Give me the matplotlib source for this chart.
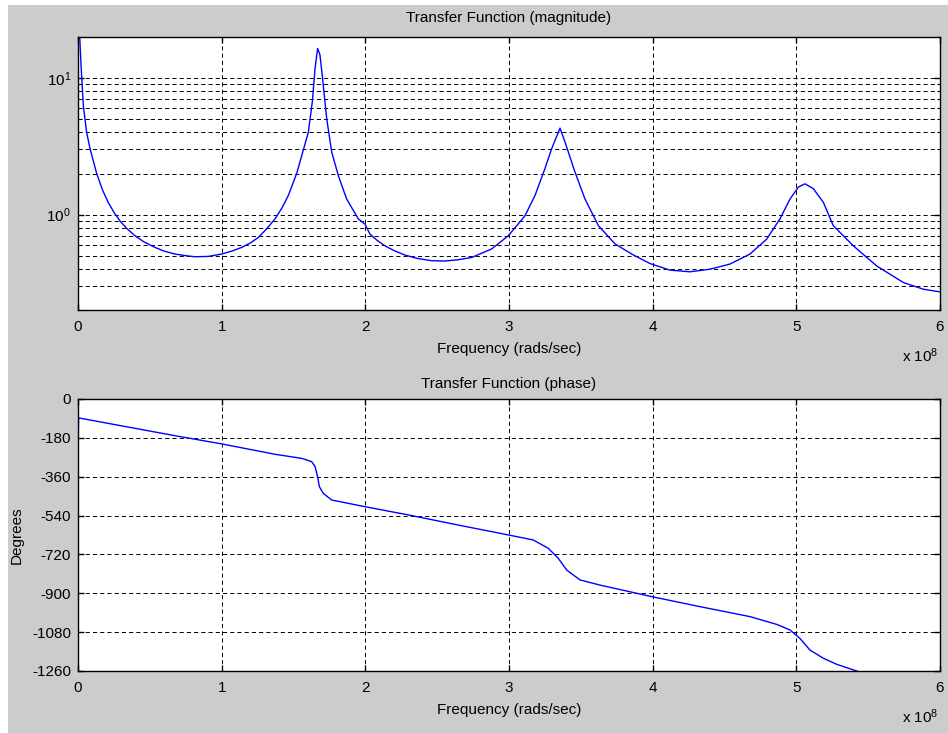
import matplotlib
matplotlib.use("Agg")
import matplotlib.pyplot as plt
from matplotlib.patches import Rectangle
from matplotlib.ticker import FixedLocator, NullFormatter, LogFormatterMathtext

# ---- data (frequency in units of 1e8 rad/s) ----
mag_freq = [0.003, 0.012, 0.021, 0.037, 0.06, 0.084, 0.13, 0.17, 0.21, 0.25, 0.292, 0.34,
            0.397, 0.46, 0.536, 0.60, 0.675, 0.75, 0.814, 0.907, 1.0, 1.07, 1.14, 1.20,
            1.255, 1.31, 1.371, 1.42, 1.464, 1.522, 1.568, 1.603, 1.631, 1.65, 1.668,
            1.684, 1.70, 1.731, 1.766, 1.812, 1.87, 1.951, 1.998, 2.032, 2.08, 2.137,
            2.20, 2.276, 2.36, 2.462, 2.554, 2.64, 2.74, 2.879, 2.995, 3.05, 3.111, 3.181,
            3.25, 3.297, 3.343, 3.355, 3.39, 3.459, 3.529, 3.622, 3.738, 3.854, 3.981,
            4.12, 4.26, 4.399, 4.538, 4.677, 4.793, 4.886, 4.956, 5.014, 5.06, 5.118,
            5.188, 5.257, 5.397, 5.56, 5.745, 5.884, 5.995]
mag_vals = [40.0, 20.0, 12.5, 6.3, 4.0, 3.04, 2.0, 1.52, 1.23, 1.04, 0.90, 0.79,
            0.70, 0.63, 0.575, 0.54, 0.514, 0.50, 0.491, 0.494, 0.514, 0.54, 0.575, 0.62,
            0.68, 0.78, 0.93, 1.12, 1.38, 2.0, 2.96, 4.0, 6.7, 11.8, 16.5,
            14.8, 10.5, 5.06, 2.87, 1.93, 1.30, 0.93, 0.85, 0.72, 0.65, 0.59,
            0.545, 0.505, 0.478, 0.459, 0.457, 0.466, 0.485, 0.56, 0.70, 0.82, 0.98, 1.38,
            2.17, 3.04, 4.0, 4.3, 3.4, 2.05, 1.30, 0.83, 0.61, 0.514, 0.438,
            0.392, 0.381, 0.398, 0.434, 0.514, 0.66, 0.93, 1.30, 1.59, 1.68, 1.55,
            1.23, 0.83, 0.59, 0.42, 0.318, 0.284, 0.272]

ph_freq = [0.0, 0.002, 0.004, 0.008, 0.211, 0.675, 1.0, 1.371, 1.557, 1.626, 1.65,
           1.668, 1.68, 1.707, 1.766, 1.998, 2.30, 2.647, 2.937, 3.169, 3.274, 3.343,
           3.401, 3.494, 3.633, 3.997, 4.33, 4.677, 4.863, 4.956, 5.025, 5.095, 5.188,
           5.281, 5.42, 5.6]
ph_vals = [0, -165, -90, -88, -113, -170, -208, -256, -275, -290, -313,
           -360, -406, -437, -468, -499, -537, -584, -622, -653, -692, -738,
           -792, -838, -862, -916, -962, -1008, -1044, -1070, -1109, -1163, -1201,
           -1229, -1260, -1300]

x_ticks = [0, 1, 2, 3, 4, 5, 6]
mag_major = [1, 10]
mag_minor = [0.2, 0.3, 0.4, 0.5, 0.6, 0.7, 0.8, 0.9, 2, 3, 4, 5, 6, 7, 8, 9, 20]
ph_ticks = [0, -180, -360, -540, -720, -900, -1080, -1260]

plt.rcParams['font.family'] = ['Liberation Sans', 'DejaVu Sans']
plt.rcParams['mathtext.default'] = 'regular'
plt.rcParams['lines.scale_dashes'] = False
FS = 11

W, H = 948, 733
fig = plt.figure(figsize=(W / 100, H / 100), dpi=100, facecolor='white')
fig.patches.append(Rectangle((8 / W, 0), 1 - 8 / W, 1 - 5 / H, transform=fig.transFigure,
                             facecolor='#cccccc', edgecolor='none', zorder=-10))

def fpos(x0, y0, x1, y1):
    return [x0 / W, 1 - y1 / H, (x1 - x0) / W, (y1 - y0) / H]

grid_kw = dict(color='black', linestyle=(0, (3, 2.2)), linewidth=0.7)

def style(ax):
    ax.set_facecolor('white')
    for s in ax.spines.values():
        s.set_linewidth(1.0)
        s.set_color('black')
    ax.tick_params(which='both', direction='in', top=True, right=True,
                   labelsize=FS, colors='black')
    ax.tick_params(axis='y', pad=5)
    ax.tick_params(axis='x', pad=7)
    ax.tick_params(which='major', length=4, width=1.0)
    ax.tick_params(which='minor', length=2.5, width=0.8)
    ax.set_xlim(0, 6)
    ax.xaxis.set_major_locator(FixedLocator(x_ticks))
    ax.set_xticklabels([str(t) for t in x_ticks])
    ax.xaxis.set_minor_locator(FixedLocator([]))
    ax.set_axisbelow(True)

# ---- magnitude ----
ax1 = fig.add_axes(fpos(78, 37, 940, 310))
ax1.plot(mag_freq, mag_vals, color=(0, 0, 1), linewidth=1.0)
ax1.set_yscale('log')
ax1.set_ylim(0.2, 20)
style(ax1)
ax1.yaxis.set_major_locator(FixedLocator(mag_major))
ax1.yaxis.set_major_formatter(LogFormatterMathtext())
ax1.yaxis.set_minor_locator(FixedLocator(mag_minor))
ax1.yaxis.set_minor_formatter(NullFormatter())
ax1.grid(True, which='major', axis='x', **grid_kw)
ax1.grid(True, which='both', axis='y', **grid_kw)
ax1.set_title('Transfer Function (magnitude)', fontsize=FS, pad=11)
ax1.set_xlabel('Frequency (rads/sec)', fontsize=FS, labelpad=6)
fig.text(938 / W, 1 - 362 / H, r'x 10$^{8}$', ha='right', va='baseline', fontsize=FS)

# ---- phase ----
ax2 = fig.add_axes(fpos(78, 399, 940, 671))
ax2.plot(ph_freq, ph_vals, color=(0, 0, 1), linewidth=1.0)
ax2.set_ylim(-1260, 0)
style(ax2)
ax2.yaxis.set_major_locator(FixedLocator(ph_ticks))
ax2.set_yticklabels([str(t) for t in ph_ticks])
ax2.yaxis.set_minor_locator(FixedLocator([]))
ax2.grid(True, which='major', **grid_kw)
ax2.set_title('Transfer Function (phase)', fontsize=FS, pad=8)
ax2.set_xlabel('Frequency (rads/sec)', fontsize=FS, labelpad=6)
ax2.set_ylabel('Degrees', fontsize=FS, labelpad=6)
fig.text(938 / W, 1 - 723 / H, r'x 10$^{8}$', ha='right', va='baseline', fontsize=FS)

fig.savefig('out.png', dpi=100, facecolor=fig.get_facecolor())
